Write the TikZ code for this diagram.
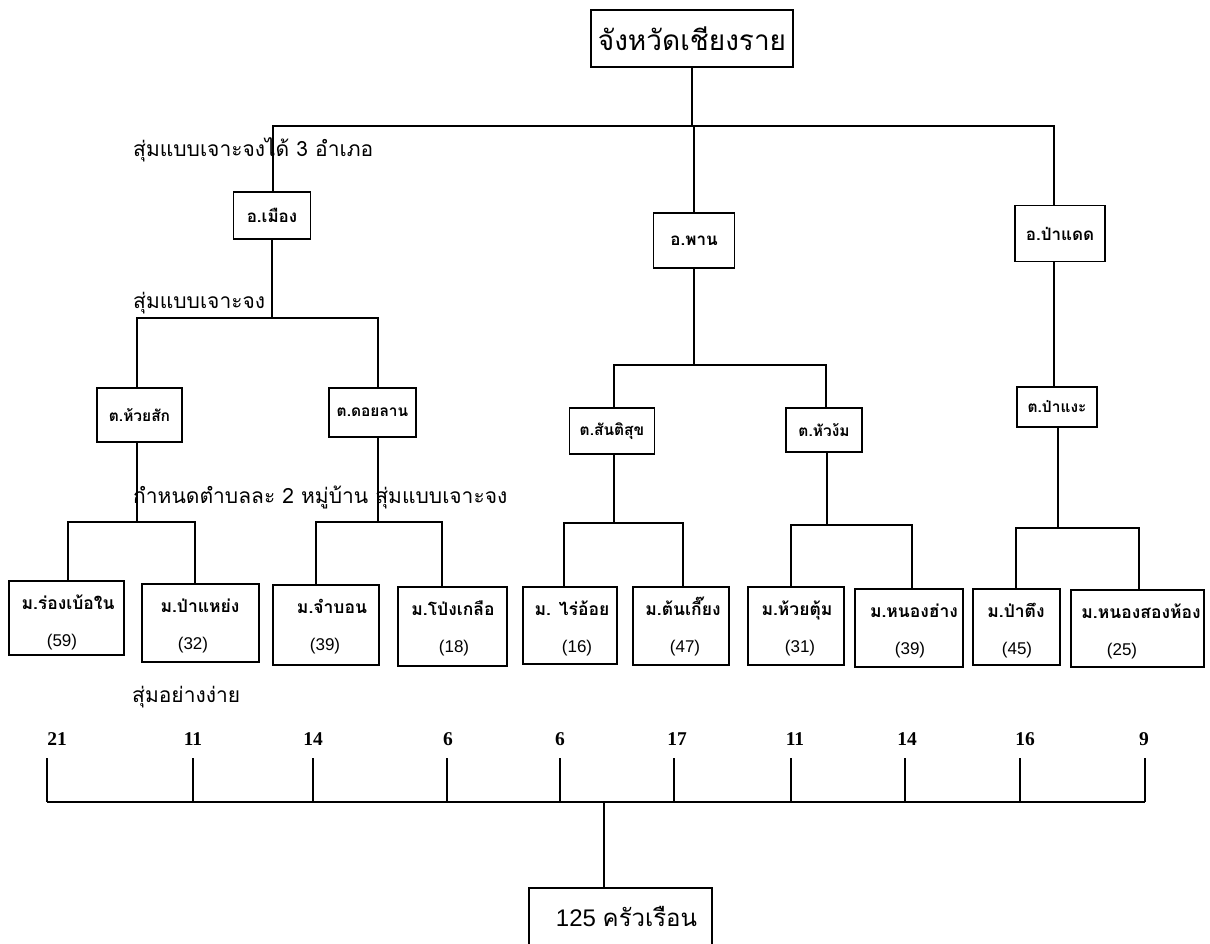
\documentclass[tikz,border=0pt]{standalone}
\usepackage{fontspec}
\setmainfont{Liberation Sans}
\newfontfamily\thaifont[Script=Thai]{Loma}
\newfontfamily\numfont{Liberation Serif}
\tikzset{
  box/.style={draw, line width=1.1pt, inner sep=0pt, align=center},
  abox/.style={box, font=\thaifont\bfseries\fontsize{17}{20}\selectfont},
  bbox/.style={box, font=\thaifont\bfseries\fontsize{15.5}{18}\selectfont},
  vbox/.style={box},
  vname/.style={inner sep=0pt, anchor=base, font=\thaifont\bfseries\fontsize{17.5}{20}\selectfont},
  vnum/.style={inner sep=0pt, font=\fontsize{17}{20}\selectfont},
  conn/.style={line width=1.3pt},
  lbl/.style={anchor=west, inner sep=0pt, font=\thaifont\fontsize{21}{25}\selectfont},
  num/.style={inner sep=0pt, font=\numfont\bfseries\fontsize{19.5}{22}\selectfont},
}
% #1 id, #2 cx, #3 top, #4 w, #5 h, #6 name, #7 name x, #8 count, #9 count x
\newcommand{\village}[9]{%
  \node[vbox, minimum width=#4pt, minimum height=#5pt] (#1) at (#2,#3+#5/2) {};
  \node[vname] (#1a) at (#7,#3+28) {#6};
  \node[vnum] (#1b) at (#9,#3+61) {#8};
}
\begin{document}
\begin{tikzpicture}[x=1pt,y=-1pt]
\clip (0,0) rectangle (1210,944);
\fill[white] (0,0) rectangle (1210,944);

% top
\node[box, minimum width=202pt, minimum height=57pt, font=\thaifont\fontsize{28}{32}\selectfont] (T) at (692,38.5) {จังหวัดเชียงราย};

% districts
\node[abox, minimum width=77pt, minimum height=47pt] (A1) at (272,215.5) {อ.เมือง};
\node[abox, minimum width=81pt, minimum height=55pt] (A2) at (694,240.5) {อ.พาน};
\node[abox, minimum width=90pt, minimum height=56pt] (A3) at (1060,233.5) {อ.ป่าแดด};

% sub-districts
\node[bbox, minimum width=85pt, minimum height=54pt] (B1) at (139.5,415) {ต.ห้วยสัก};
\node[bbox, minimum width=87pt, minimum height=49pt] (B2) at (372.5,412.5) {ต.ดอยลาน};
\node[bbox, minimum width=85pt, minimum height=46pt] (B3) at (612,431) {ต.สันติสุข};
\node[bbox, minimum width=76pt, minimum height=44pt] (B4) at (824,430) {ต.หัวง้ม};
\node[bbox, minimum width=80pt, minimum height=40pt] (B5) at (1057,407) {ต.ป่าแงะ};

% villages
\village{m1}{66.5}{581}{115}{74}{ม.ร่องเบ้อใน}{68}{(59)}{62}
\village{m2}{200.5}{584}{117}{78}{ม.ป่าแหย่ง}{200}{(32)}{193}
\village{m3}{326}{585}{106}{80}{ม.จำบอน}{332}{(39)}{325}
\village{m4}{452.5}{587}{109}{79}{ม.โป่งเกลือ}{453}{(18)}{454}
\village{m5}{570}{587}{94}{77}{ม. ไร่อ้อย}{572}{(16)}{577}
\village{m6}{681}{587}{96}{78}{ม.ต้นเกี๊ยง}{683}{(47)}{685}
\village{m7}{796}{587}{96}{78}{ม.ห้วยตุ้ม}{797}{(31)}{800}
\village{m8}{909}{589}{108}{78}{ม.หนองฮ่าง}{914}{(39)}{910}
\village{m9}{1016.5}{589}{87}{76}{ม.ป่าตึง}{1016}{(45)}{1017}
\village{m10}{1137.5}{590}{133}{77}{ม.หนองสองห้อง}{1141}{(25)}{1122}

% bottom box
\node[box, minimum width=183pt, minimum height=58pt, font=\fontsize{24}{28}\selectfont] (Z) at (620.5,917) {\hspace*{12pt}125 {\thaifont ครัวเรือน}};

% labels
\node[lbl] (L1) at (133,150) {สุ่มแบบเจาะจงได้ 3 อำเภอ};
\node[lbl] (L2) at (133,303) {สุ่มแบบเจาะจง};
\node[lbl] (L3) at (133,497) {กำหนดตำบลละ 2 หมู่บ้าน สุ่มแบบเจาะจง};
\node[lbl] (L4) at (132,697) {สุ่มอย่างง่าย};

% level 1 connectors
\coordinate (hL) at (273,126);
\coordinate (hR) at (1054,126);
\draw[conn] (T.south) -- (T.south |- hL);
\draw[conn] (A1.north -| hL) -- (hL) -- (hR) -- (A3.north -| hR);
\draw[conn] (A2.north) -- (A2.north |- hL);

% level 2 connectors
\coordinate (pL) at (137,318);
\coordinate (pR) at (378,318);
\draw[conn] (A1.south) -- (A1.south |- pL);
\draw[conn] (B1.north -| pL) -- (pL) -- (pR) -- (B2.north -| pR);
\coordinate (qL) at (614,365);
\coordinate (qR) at (826,365);
\draw[conn] (A2.south) -- (A2.south |- qL);
\draw[conn] (B3.north -| qL) -- (qL) -- (qR) -- (B4.north -| qR);
\draw[conn] (A3.south -| hR) -- (B5.north -| hR);

% level 3 connectors
\foreach \g/\b/\xa/\xb/\xc/\y/\ma/\mb in {1/B1/68/195/137/522/m1/m2, 2/B2/316/442/378/522/m3/m4, 3/B3/564/683/614/523/m5/m6, 4/B4/791/912/827/525/m7/m8, 5/B5/1016/1139/1058/528/m9/m10}{
  \coordinate (g\g a) at (\xa,\y);
  \coordinate (g\g b) at (\xb,\y);
  \coordinate (g\g c) at (\xc,\y);
  \draw[conn] (\b.south -| g\g c) -- (g\g c);
  \draw[conn] (\ma.north -| g\g a) -- (g\g a) -- (g\g b) -- (\mb.north -| g\g b);
}

% sample numbers
\foreach \i/\tx/\nx/\v in {1/47/57/21, 2/193/193/11, 3/313/313/14, 4/447/448/6, 5/560/560/6, 6/674/677/17, 7/791/795/11, 8/905/907/14, 9/1020/1025/16, 10/1145/1144/9}{
  \node[num] (n\i) at (\nx,739) {\v};
  \coordinate (u\i) at (\tx,758);
  \coordinate (b\i) at (\tx,802);
  \draw[conn] (u\i) -- (b\i);
}
\draw[conn] (b1) -- (b10);
\coordinate (zc) at (604,802);
\draw[conn] (zc) -- (Z.north -| zc);
\end{tikzpicture}
\end{document}
